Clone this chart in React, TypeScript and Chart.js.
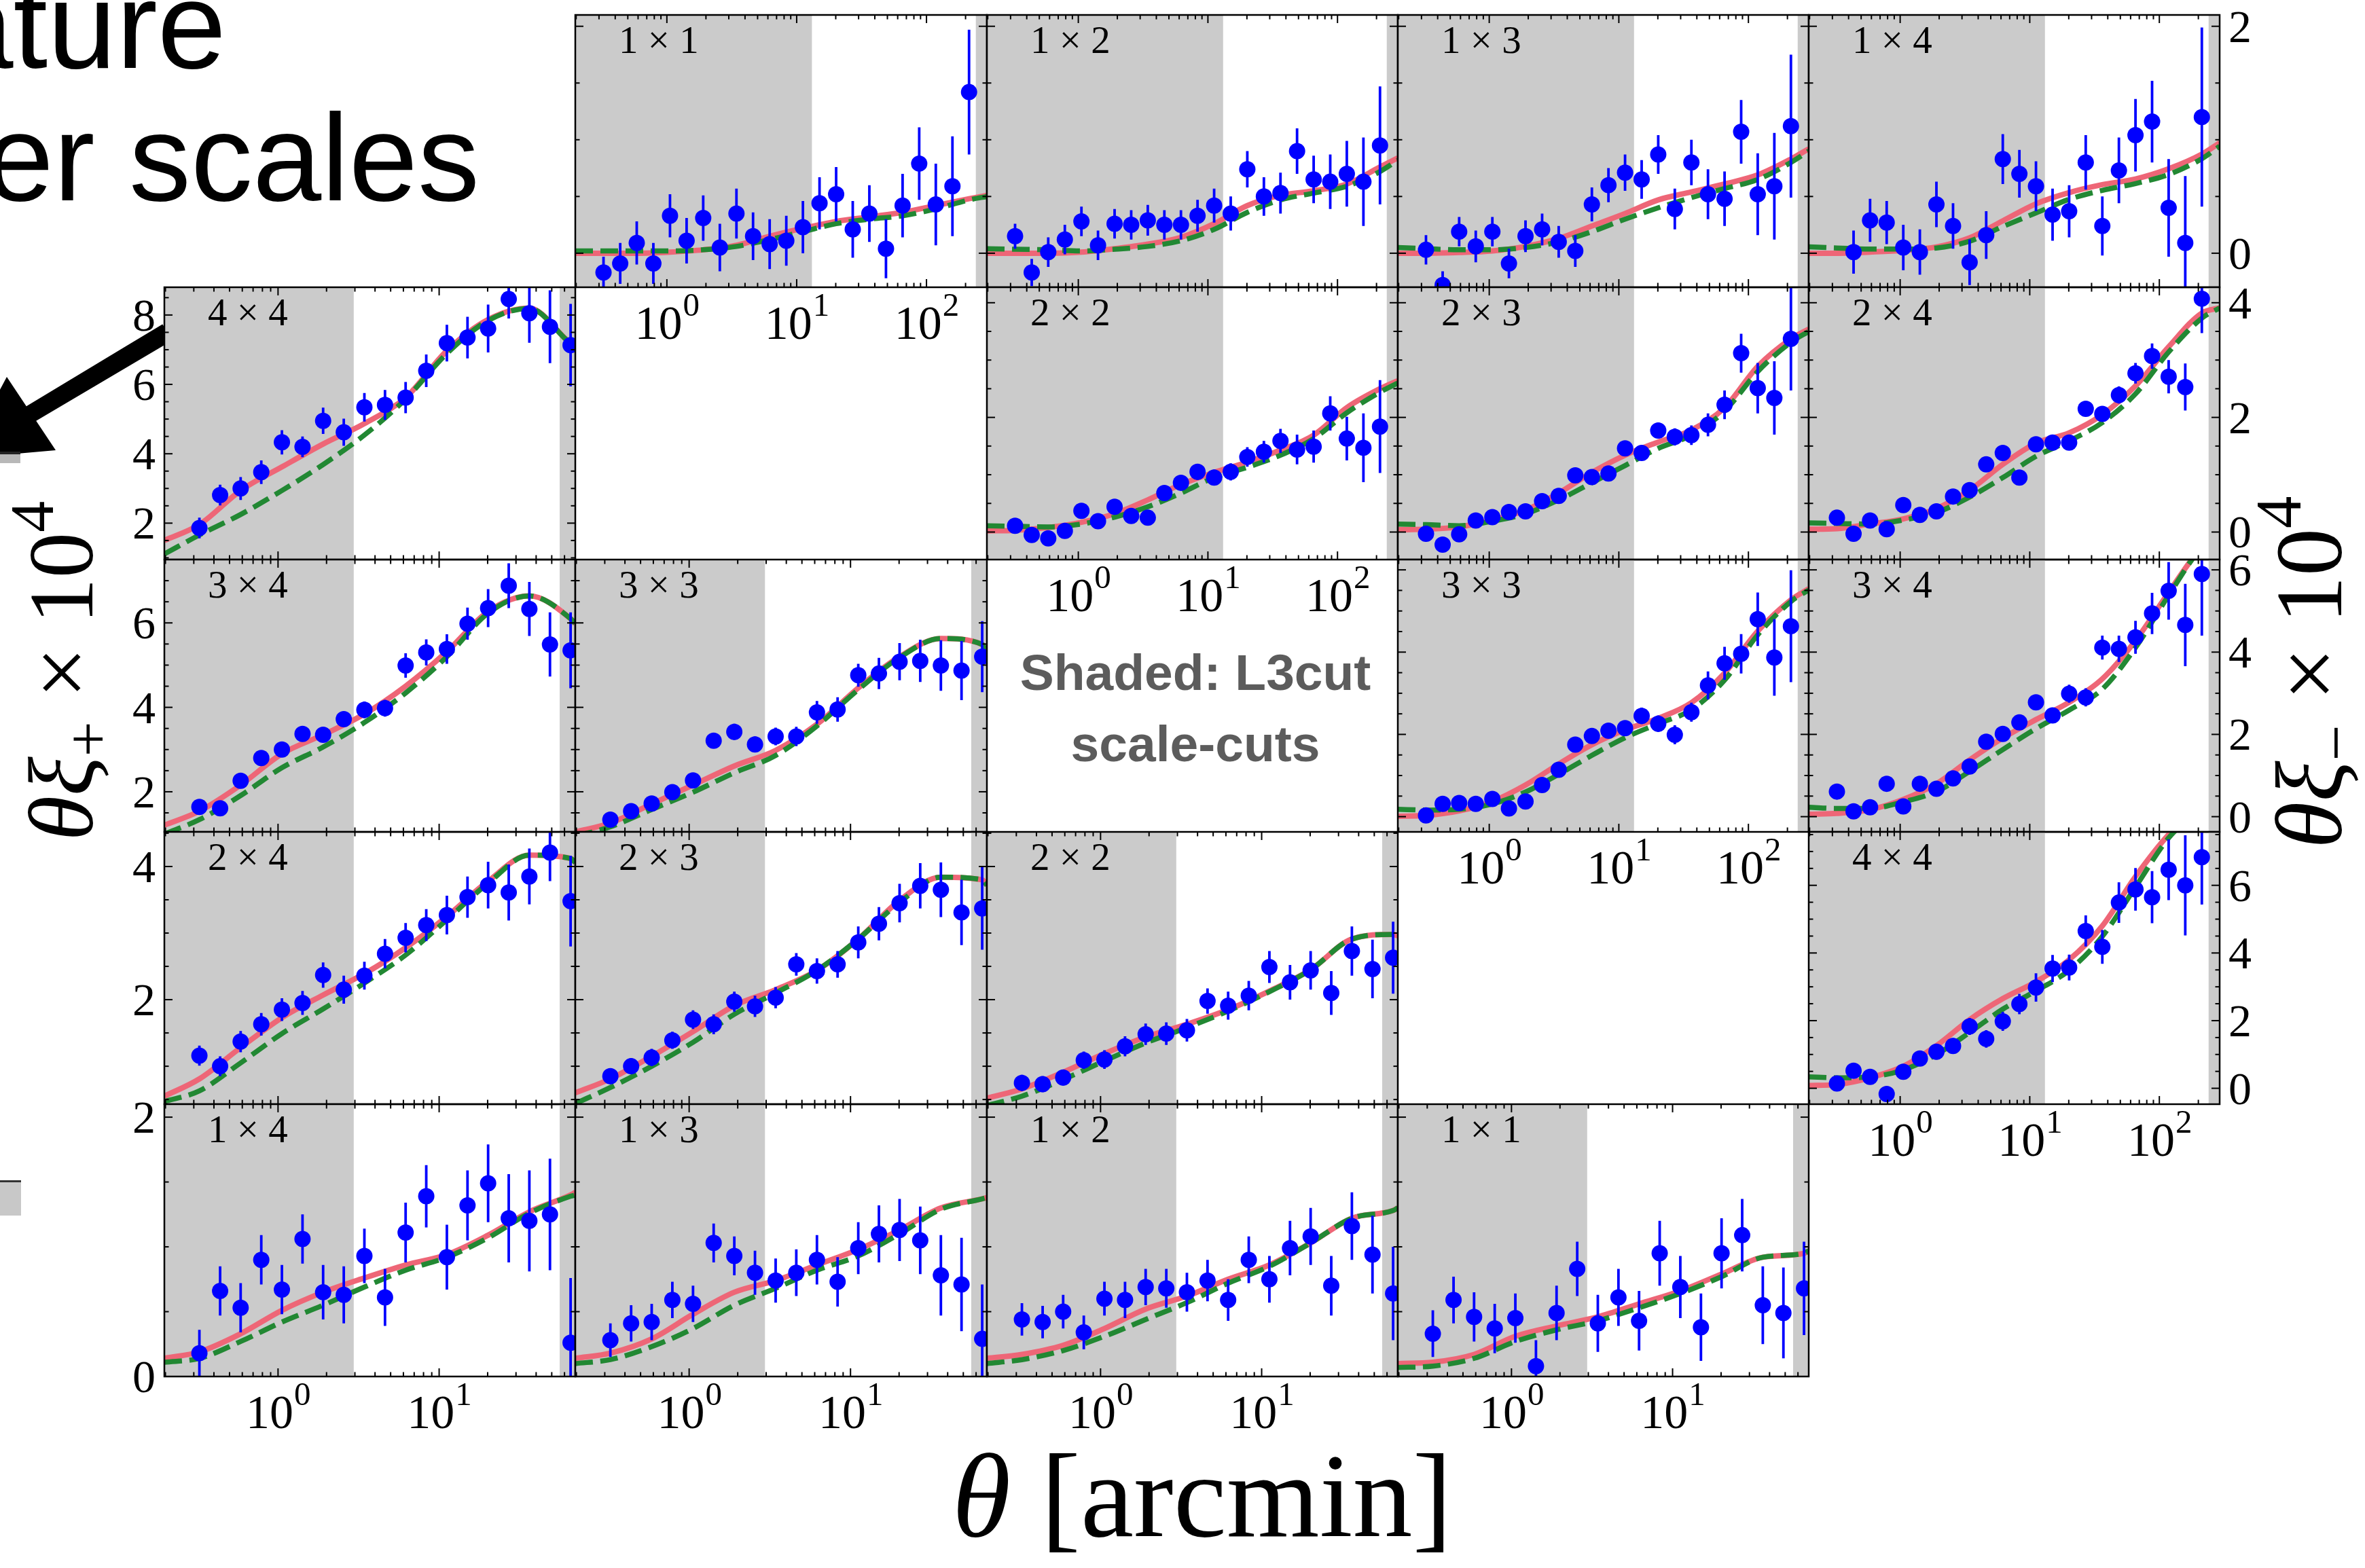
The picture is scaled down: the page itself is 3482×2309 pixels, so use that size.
import React, { useEffect, useRef } from "react";
import { Chart, registerables } from "chart.js";

Chart.register(...registerables);

// ---------------- data ----------------
// angular bins (arcmin); xi+ uses the first 19, xi- all 23
const THETA = [0.325, 0.437, 0.586, 0.787, 1.057, 1.419, 1.905, 2.559, 3.436, 4.613, 6.194, 8.318, 11.17, 15.0, 20.14, 27.04, 36.31, 48.75, 65.46, 87.9, 118.0, 158.5, 212.8];
// theta grid on which the model curves are sampled
const MODEL_THETA_MINUS = [0.197, 0.325, 0.586, 1.057, 1.905, 3.436, 6.194, 11.17, 20.14, 36.31, 65.46, 118.0, 212.8, 292];
const MODEL_THETA_PLUS = [0.197, 0.325, 0.586, 1.057, 1.905, 3.436, 6.194, 11.17, 20.14, 36.31, 65.46, 70];
const X_RANGE_PLUS = [0.197, 70];
const X_RANGE_MINUS = [0.197, 292];
const CUTS_PLUS = [[0.197, 2.95], [56, 70]];
const CUTS_MINUS = [[0.197, 13.1], [240, 292]];
const X_LABELS_PLUS = [1, 10];
const X_LABELS_MINUS = [1, 10, 100];

// y ranges / major tick labels per row
const Y_RANGE_P44 = [0.95, 8.8];
const Y_RANGE_P3 = [1.05, 7.5];
const Y_RANGE_P2 = [0.43, 4.52];
const Y_RANGE_P1 = [0, 2.1];
const Y_RANGE_M1 = [-0.3, 2.1];
const Y_RANGE_M2 = [-0.48, 4.27];
const Y_RANGE_M3 = [-0.37, 6.25];
const Y_RANGE_M4 = [-0.47, 7.58];
const Y_TICKS_P44 = [2, 4, 6, 8];
const Y_TICKS_P3 = [2, 4, 6];
const Y_TICKS_P2 = [2, 4];
const Y_TICKS_P1 = [0, 2];
const Y_TICKS_M1 = [0, 2];
const Y_TICKS_M2 = [0, 2, 4];
const Y_TICKS_M3 = [0, 2, 4, 6];
const Y_TICKS_M4 = [0, 2, 4, 6];

// ---- xi_minus panels ----
const M11_VAL = [-0.17, -0.09, 0.09, -0.09, 0.33, 0.11, 0.31, 0.05, 0.35, 0.15, 0.08, 0.11, 0.23, 0.44, 0.52, 0.21, 0.35, 0.04, 0.42, 0.79, 0.43, 0.59, 1.42];
const M11_ERR = [0.14, 0.18, 0.19, 0.18, 0.19, 0.2, 0.2, 0.21, 0.22, 0.21, 0.22, 0.22, 0.23, 0.23, 0.24, 0.25, 0.25, 0.26, 0.28, 0.32, 0.36, 0.44, 0.55];
const M11_PINK = [0.0, 0.0, 0.0, 0.01, 0.03, 0.07, 0.15, 0.22, 0.28, 0.32, 0.36, 0.42, 0.48, 0.51];
const M11_GREEN = [0.02, 0.02, 0.02, 0.02, 0.03, 0.06, 0.12, 0.19, 0.26, 0.3, 0.33, 0.39, 0.47, 0.5];

const M12_VAL = [0.15, -0.17, 0.01, 0.12, 0.28, 0.07, 0.26, 0.25, 0.29, 0.25, 0.25, 0.33, 0.42, 0.35, 0.74, 0.5, 0.53, 0.9, 0.65, 0.63, 0.7, 0.63, 0.95];
const M12_ERR = [0.11, 0.12, 0.13, 0.13, 0.13, 0.13, 0.13, 0.13, 0.135, 0.13, 0.13, 0.14, 0.15, 0.15, 0.16, 0.17, 0.18, 0.2, 0.21, 0.24, 0.29, 0.39, 0.52];
const M12_PINK = [0, 0, 0, 0.01, 0.04, 0.08, 0.14, 0.26, 0.42, 0.51, 0.55, 0.61, 0.76, 0.84];
const M12_GREEN = [0.04, 0.035, 0.03, 0.02, 0.035, 0.06, 0.11, 0.21, 0.36, 0.47, 0.53, 0.59, 0.72, 0.82];

const M13_VAL = [0.03, -0.28, 0.19, 0.06, 0.19, -0.09, 0.15, 0.21, 0.1, 0.02, 0.43, 0.6, 0.71, 0.65, 0.87, 0.39, 0.8, 0.52, 0.48, 1.07, 0.52, 0.59, 1.12];
const M13_ERR = [0.13, 0.12, 0.13, 0.14, 0.13, 0.13, 0.14, 0.14, 0.14, 0.14, 0.15, 0.15, 0.16, 0.17, 0.17, 0.18, 0.2, 0.22, 0.24, 0.28, 0.36, 0.47, 0.63];
const M13_PINK = [0, 0, 0.006, 0.02, 0.06, 0.13, 0.24, 0.35, 0.47, 0.54, 0.61, 0.69, 0.83, 0.92];
const M13_GREEN = [0.05, 0.04, 0.03, 0.03, 0.05, 0.1, 0.19, 0.3, 0.4, 0.49, 0.57, 0.65, 0.8, 0.9];

const M14_VAL = [null, 0.01, 0.29, 0.27, 0.05, 0.01, 0.43, 0.24, -0.08, 0.16, 0.83, 0.7, 0.59, 0.34, 0.37, 0.8, 0.24, 0.73, 1.04, 1.16, 0.4, 0.09, 1.2];
const M14_ERR = [0.19, 0.19, 0.19, 0.19, 0.2, 0.2, 0.2, 0.2, 0.2, 0.21, 0.22, 0.21, 0.22, 0.23, 0.23, 0.24, 0.26, 0.29, 0.32, 0.36, 0.43, 0.59, 0.79];
const M14_PINK = [0, 0, 0.01, 0.025, 0.055, 0.135, 0.285, 0.435, 0.534, 0.604, 0.654, 0.744, 0.873, 0.973];
const M14_GREEN = [0.056, 0.046, 0.036, 0.036, 0.046, 0.106, 0.235, 0.355, 0.475, 0.554, 0.614, 0.694, 0.833, 0.943];

const M22_VAL = [0.11, -0.05, -0.11, 0.02, 0.37, 0.19, 0.44, 0.28, 0.25, 0.68, 0.86, 1.05, 0.95, 1.05, 1.31, 1.4, 1.59, 1.44, 1.49, 2.07, 1.63, 1.47, 1.84];
const M22_ERR = [0.1, 0.1, 0.1, 0.1, 0.1, 0.11, 0.11, 0.12, 0.12, 0.12, 0.13, 0.14, 0.14, 0.15, 0.17, 0.19, 0.21, 0.26, 0.28, 0.3, 0.38, 0.6, 0.81];
const M22_PINK = [0.02, 0.03, 0.08, 0.17, 0.32, 0.56, 0.83, 1.04, 1.22, 1.43, 1.69, 2.17, 2.5, 2.64];
const M22_GREEN = [0.11, 0.1, 0.09, 0.14, 0.26, 0.44, 0.68, 0.95, 1.13, 1.34, 1.63, 2.08, 2.44, 2.6];

const M23_VAL = [-0.03, -0.22, -0.04, 0.2, 0.26, 0.35, 0.36, 0.54, 0.63, 0.99, 0.96, 1.02, 1.46, 1.38, 1.77, 1.66, 1.69, 1.87, 2.22, 3.12, 2.51, 2.34, 3.37];
const M23_ERR = [0.1, 0.1, 0.1, 0.1, 0.1, 0.1, 0.11, 0.11, 0.11, 0.11, 0.12, 0.12, 0.12, 0.13, 0.14, 0.15, 0.17, 0.2, 0.25, 0.34, 0.44, 0.64, 0.9];
const M23_PINK = [0.04, 0.05, 0.09, 0.21, 0.38, 0.68, 1.04, 1.34, 1.57, 1.78, 2.17, 2.89, 3.37, 3.54];
const M23_GREEN = [0.14, 0.13, 0.11, 0.19, 0.32, 0.56, 0.86, 1.16, 1.46, 1.69, 2.11, 2.8, 3.31, 3.5];

const M24_VAL = [0.25, -0.03, 0.2, 0.05, 0.47, 0.3, 0.36, 0.62, 0.73, 1.18, 1.38, 0.95, 1.53, 1.56, 1.56, 2.15, 2.06, 2.39, 2.77, 3.07, 2.71, 2.53, 4.07];
const M24_ERR = [0.06, 0.06, 0.06, 0.06, 0.06, 0.06, 0.06, 0.07, 0.07, 0.08, 0.08, 0.09, 0.1, 0.1, 0.11, 0.12, 0.13, 0.15, 0.18, 0.22, 0.29, 0.41, 0.6];
const M24_PINK = [0.05, 0.06, 0.14, 0.23, 0.41, 0.73, 1.18, 1.55, 1.73, 2.05, 2.55, 3.23, 3.82, 3.91];
const M24_GREEN = [0.16, 0.15, 0.14, 0.21, 0.34, 0.61, 0.95, 1.32, 1.59, 1.91, 2.41, 3.14, 3.73, 3.91];

const M33_VAL = [0.03, 0.31, 0.33, 0.31, 0.43, 0.2, 0.37, 0.77, 1.14, 1.75, 1.96, 2.09, 2.15, 2.45, 2.26, 1.99, 2.54, 3.19, 3.73, 3.96, 4.8, 3.87, 4.63];
const M33_ERR = [0.06, 0.06, 0.06, 0.06, 0.07, 0.07, 0.07, 0.08, 0.08, 0.09, 0.1, 0.12, 0.14, 0.2, 0.2, 0.23, 0.23, 0.34, 0.4, 0.48, 0.65, 0.93, 1.36];
const M33_PINK = [0.01, 0.03, 0.14, 0.37, 0.77, 1.28, 1.75, 2.11, 2.39, 2.77, 3.49, 4.51, 5.27, 5.54];
const M33_GREEN = [0.18, 0.16, 0.18, 0.31, 0.6, 1.03, 1.49, 1.92, 2.26, 2.6, 3.32, 4.42, 5.23, 5.51];

const M34_VAL = [0.61, 0.13, 0.23, 0.8, 0.25, 0.8, 0.68, 0.93, 1.22, 1.82, 2.01, 2.29, 2.78, 2.46, 2.99, 2.9, 4.11, 4.08, 4.36, 4.94, 5.49, 4.66, 5.9];
const M34_ERR = [0.05, 0.05, 0.05, 0.05, 0.05, 0.05, 0.06, 0.06, 0.07, 0.08, 0.1, 0.11, 0.17, 0.18, 0.22, 0.22, 0.29, 0.32, 0.4, 0.5, 0.7, 1.0, 1.5];
const M34_PINK = [0.06, 0.08, 0.17, 0.42, 0.8, 1.38, 1.91, 2.36, 2.78, 3.35, 4.28, 5.45, 6.55, 6.85];
const M34_GREEN = [0.23, 0.2, 0.2, 0.36, 0.61, 1.1, 1.63, 2.14, 2.59, 3.1, 4.11, 5.38, 6.55, 6.85];

const M44_VAL = [0.14, 0.52, 0.34, -0.17, 0.49, 0.88, 1.08, 1.25, 1.83, 1.46, 1.98, 2.49, 2.98, 3.54, 3.57, 4.65, 4.18, 5.49, 5.88, 5.65, 6.46, 6.0, 6.83];
const M44_ERR = [0.2, 0.2, 0.2, 0.2, 0.22, 0.22, 0.23, 0.23, 0.25, 0.26, 0.28, 0.3, 0.42, 0.4, 0.38, 0.46, 0.5, 0.6, 0.63, 0.77, 0.9, 1.48, 1.4];
const M44_PINK = [0.08, 0.11, 0.31, 0.65, 1.26, 2.03, 2.65, 3.15, 3.8, 4.8, 6.26, 7.5, 8.4, 8.8];
const M44_GREEN = [0.34, 0.31, 0.34, 0.54, 1.0, 1.65, 2.34, 2.88, 3.49, 4.49, 5.95, 7.4, 8.3, 8.7];

// ---- xi_plus panels ----
const P44_VAL = [1.86, 2.81, 3.0, 3.47, 4.33, 4.2, 4.95, 4.62, 5.34, 5.41, 5.62, 6.39, 7.19, 7.35, 7.61, 8.46, 8.05, 7.66, 7.13];
const P44_ERR = [0.3, 0.3, 0.33, 0.34, 0.35, 0.3, 0.38, 0.39, 0.41, 0.43, 0.45, 0.47, 0.53, 0.6, 0.69, 0.56, 0.85, 1.05, 1.19];
const P44_PINK = [1.5, 1.96, 2.94, 3.62, 4.28, 4.87, 5.62, 6.97, 7.87, 8.2, 7.19, 7.12];
const P44_GREEN = [1.11, 1.66, 2.25, 2.94, 3.69, 4.54, 5.58, 6.89, 7.84, 8.19, 7.19, 7.12];

const P34_VAL = [1.64, 1.61, 2.26, 2.8, 3.0, 3.37, 3.35, 3.72, 3.94, 3.98, 4.99, 5.3, 5.38, 5.98, 6.35, 6.88, 6.33, 5.49, 5.35];
const P34_ERR = [0.13, 0.13, 0.14, 0.15, 0.15, 0.16, 0.17, 0.17, 0.2, 0.2, 0.29, 0.31, 0.35, 0.38, 0.45, 0.53, 0.64, 0.76, 0.9];
const P34_PINK = [1.21, 1.54, 2.16, 2.9, 3.35, 3.84, 4.5, 5.32, 6.27, 6.64, 6.1, 5.98];
const P34_GREEN = [1.0, 1.34, 1.91, 2.57, 3.06, 3.64, 4.34, 5.2, 6.23, 6.64, 6.1, 5.98];

const P33_VAL = [1.34, 1.54, 1.72, 1.99, 2.27, 3.21, 3.42, 3.12, 3.31, 3.31, 3.88, 3.95, 4.76, 4.8, 5.08, 5.1, 4.99, 4.87, 5.2];
const P33_ERR = [0.12, 0.12, 0.13, 0.13, 0.14, 0.17, 0.19, 0.19, 0.21, 0.23, 0.27, 0.29, 0.27, 0.37, 0.44, 0.5, 0.6, 0.7, 0.84];
const P33_PINK = [1.05, 1.26, 1.71, 2.16, 2.61, 2.98, 3.6, 4.46, 5.2, 5.63, 5.49, 5.28];
const P33_GREEN = [0.95, 1.17, 1.58, 1.99, 2.45, 2.86, 3.56, 4.42, 5.18, 5.63, 5.49, 5.28];

const P24_VAL = [1.16, 1.0, 1.37, 1.63, 1.85, 1.95, 2.37, 2.15, 2.36, 2.69, 2.93, 3.12, 3.27, 3.54, 3.72, 3.61, 3.85, 4.21, 3.48];
const P24_ERR = [0.15, 0.15, 0.16, 0.17, 0.17, 0.18, 0.19, 0.21, 0.21, 0.22, 0.22, 0.24, 0.29, 0.31, 0.35, 0.42, 0.42, 0.43, 0.68];
const P24_PINK = [0.55, 0.81, 1.28, 1.73, 2.07, 2.39, 2.78, 3.25, 3.78, 4.17, 4.12, 4.06];
const P24_GREEN = [0.47, 0.63, 1.05, 1.49, 1.86, 2.25, 2.67, 3.2, 3.75, 4.17, 4.12, 4.06];

const P23_VAL = [0.85, 1.0, 1.13, 1.39, 1.7, 1.63, 1.97, 1.9, 2.03, 2.53, 2.43, 2.53, 2.86, 3.14, 3.45, 3.71, 3.65, 3.31, 3.37];
const P23_ERR = [0.12, 0.12, 0.13, 0.13, 0.14, 0.15, 0.15, 0.16, 0.16, 0.17, 0.19, 0.2, 0.24, 0.25, 0.29, 0.34, 0.41, 0.49, 0.62];
const P23_PINK = [0.6, 0.81, 1.15, 1.52, 1.91, 2.15, 2.44, 2.91, 3.49, 3.84, 3.8, 3.72];
const P23_GREEN = [0.44, 0.68, 1.0, 1.36, 1.78, 2.1, 2.44, 2.91, 3.46, 3.84, 3.8, 3.72];

const P22_VAL = [0.75, 0.73, 0.83, 1.09, 1.1, 1.3, 1.48, 1.49, 1.54, 1.98, 1.91, 2.06, 2.49, 2.26, 2.44, 2.1, 2.73, 2.46, 2.63];
const P22_ERR = [0.12, 0.12, 0.12, 0.13, 0.14, 0.15, 0.16, 0.17, 0.17, 0.19, 0.21, 0.22, 0.24, 0.26, 0.29, 0.33, 0.37, 0.44, 0.54];
const P22_PINK = [0.52, 0.66, 0.91, 1.19, 1.44, 1.63, 1.85, 2.13, 2.45, 2.91, 2.98, 2.96];
const P22_GREEN = [0.41, 0.55, 0.8, 1.08, 1.35, 1.58, 1.83, 2.12, 2.45, 2.91, 2.98, 2.96];

const P14_VAL = [0.18, 0.66, 0.53, 0.9, 0.67, 1.06, 0.65, 0.63, 0.93, 0.61, 1.11, 1.39, 0.92, 1.32, 1.49, 1.22, 1.2, 1.25, 0.26];
const P14_ERR = [0.18, 0.19, 0.19, 0.19, 0.19, 0.19, 0.21, 0.22, 0.21, 0.22, 0.23, 0.24, 0.25, 0.27, 0.3, 0.34, 0.39, 0.43, 0.5];
const P14_PINK = [0.14, 0.19, 0.33, 0.51, 0.65, 0.76, 0.86, 0.94, 1.09, 1.27, 1.4, 1.42];
const P14_GREEN = [0.11, 0.14, 0.27, 0.42, 0.55, 0.69, 0.82, 0.92, 1.07, 1.26, 1.39, 1.4];

const P13_VAL = [0.28, 0.41, 0.42, 0.59, 0.56, 1.03, 0.93, 0.8, 0.74, 0.8, 0.9, 0.73, 0.99, 1.1, 1.13, 1.05, 0.78, 0.71, 0.29];
const P13_ERR = [0.13, 0.14, 0.14, 0.14, 0.14, 0.15, 0.15, 0.17, 0.17, 0.18, 0.19, 0.19, 0.2, 0.22, 0.24, 0.26, 0.31, 0.36, 0.42];
const P13_PINK = [0.14, 0.18, 0.29, 0.48, 0.65, 0.74, 0.86, 0.98, 1.13, 1.3, 1.37, 1.38];
const P13_GREEN = [0.1, 0.13, 0.23, 0.37, 0.55, 0.68, 0.82, 0.93, 1.1, 1.29, 1.37, 1.38];

const P12_VAL = [0.44, 0.42, 0.5, 0.34, 0.6, 0.59, 0.69, 0.68, 0.65, 0.74, 0.59, 0.9, 0.75, 0.99, 1.08, 0.7, 1.16, 0.94, 0.64];
const P12_ERR = [0.125, 0.125, 0.13, 0.13, 0.13, 0.14, 0.14, 0.15, 0.15, 0.16, 0.16, 0.18, 0.18, 0.21, 0.22, 0.23, 0.26, 0.3, 0.36];
const P12_PINK = [0.14, 0.17, 0.24, 0.37, 0.52, 0.62, 0.75, 0.86, 1.03, 1.22, 1.28, 1.3];
const P12_GREEN = [0.1, 0.13, 0.2, 0.31, 0.44, 0.57, 0.72, 0.85, 1.03, 1.22, 1.28, 1.3];

const P11_VAL = [0.33, 0.59, 0.46, 0.37, 0.45, 0.08, 0.49, 0.83, 0.41, 0.61, 0.43, 0.95, 0.69, 0.38, 0.95, 1.09, 0.55, 0.49, 0.68];
const P11_ERR = [0.18, 0.18, 0.19, 0.19, 0.19, 0.2, 0.21, 0.21, 0.22, 0.22, 0.23, 0.25, 0.24, 0.26, 0.27, 0.28, 0.3, 0.35, 0.36];
const P11_PINK = [0.1, 0.11, 0.17, 0.31, 0.39, 0.46, 0.56, 0.66, 0.79, 0.92, 0.95, 0.97];
const P11_GREEN = [0.07, 0.08, 0.14, 0.27, 0.36, 0.43, 0.53, 0.64, 0.77, 0.92, 0.95, 0.97];

// ---------------- layout / style ----------------
const MARGIN = 130;
const COL_X = [242, 847, 1453, 2058, 2663, 3268];
const ROW_Y = [22, 423, 824, 1225, 1626, 2027];
const BLUE = "#0000ff";
const PINK = "#EE6677";
const GREEN = "#228833";
const SHADE = "#cbcbcb";
const SERIF = '"Liberation Serif", "DejaVu Serif", serif';

type Panel = {
  label: string;
  kind: "p" | "m";
  row: number;
  col: number;
  val: (number | null)[];
  err: number[];
  pink: number[];
  green: number[];
  yRange: number[];
  yTicks: number[];
  ySide?: "left" | "right";
  xLabels?: boolean;
};

const PANELS: Panel[] = [
  { label: "1 \u00d7 1", kind: "m", row: 0, col: 1, val: M11_VAL, err: M11_ERR, pink: M11_PINK, green: M11_GREEN, yRange: Y_RANGE_M1, yTicks: Y_TICKS_M1, xLabels: true },
  { label: "1 \u00d7 2", kind: "m", row: 0, col: 2, val: M12_VAL, err: M12_ERR, pink: M12_PINK, green: M12_GREEN, yRange: Y_RANGE_M1, yTicks: Y_TICKS_M1 },
  { label: "1 \u00d7 3", kind: "m", row: 0, col: 3, val: M13_VAL, err: M13_ERR, pink: M13_PINK, green: M13_GREEN, yRange: Y_RANGE_M1, yTicks: Y_TICKS_M1 },
  { label: "1 \u00d7 4", kind: "m", row: 0, col: 4, val: M14_VAL, err: M14_ERR, pink: M14_PINK, green: M14_GREEN, yRange: Y_RANGE_M1, yTicks: Y_TICKS_M1, ySide: "right" },
  { label: "4 \u00d7 4", kind: "p", row: 1, col: 0, val: P44_VAL, err: P44_ERR, pink: P44_PINK, green: P44_GREEN, yRange: Y_RANGE_P44, yTicks: Y_TICKS_P44, ySide: "left" },
  { label: "2 \u00d7 2", kind: "m", row: 1, col: 2, val: M22_VAL, err: M22_ERR, pink: M22_PINK, green: M22_GREEN, yRange: Y_RANGE_M2, yTicks: Y_TICKS_M2, xLabels: true },
  { label: "2 \u00d7 3", kind: "m", row: 1, col: 3, val: M23_VAL, err: M23_ERR, pink: M23_PINK, green: M23_GREEN, yRange: Y_RANGE_M2, yTicks: Y_TICKS_M2 },
  { label: "2 \u00d7 4", kind: "m", row: 1, col: 4, val: M24_VAL, err: M24_ERR, pink: M24_PINK, green: M24_GREEN, yRange: Y_RANGE_M2, yTicks: Y_TICKS_M2, ySide: "right" },
  { label: "3 \u00d7 4", kind: "p", row: 2, col: 0, val: P34_VAL, err: P34_ERR, pink: P34_PINK, green: P34_GREEN, yRange: Y_RANGE_P3, yTicks: Y_TICKS_P3, ySide: "left" },
  { label: "3 \u00d7 3", kind: "p", row: 2, col: 1, val: P33_VAL, err: P33_ERR, pink: P33_PINK, green: P33_GREEN, yRange: Y_RANGE_P3, yTicks: Y_TICKS_P3 },
  { label: "3 \u00d7 3", kind: "m", row: 2, col: 3, val: M33_VAL, err: M33_ERR, pink: M33_PINK, green: M33_GREEN, yRange: Y_RANGE_M3, yTicks: Y_TICKS_M3, xLabels: true },
  { label: "3 \u00d7 4", kind: "m", row: 2, col: 4, val: M34_VAL, err: M34_ERR, pink: M34_PINK, green: M34_GREEN, yRange: Y_RANGE_M3, yTicks: Y_TICKS_M3, ySide: "right" },
  { label: "2 \u00d7 4", kind: "p", row: 3, col: 0, val: P24_VAL, err: P24_ERR, pink: P24_PINK, green: P24_GREEN, yRange: Y_RANGE_P2, yTicks: Y_TICKS_P2, ySide: "left" },
  { label: "2 \u00d7 3", kind: "p", row: 3, col: 1, val: P23_VAL, err: P23_ERR, pink: P23_PINK, green: P23_GREEN, yRange: Y_RANGE_P2, yTicks: Y_TICKS_P2 },
  { label: "2 \u00d7 2", kind: "p", row: 3, col: 2, val: P22_VAL, err: P22_ERR, pink: P22_PINK, green: P22_GREEN, yRange: Y_RANGE_P2, yTicks: Y_TICKS_P2 },
  { label: "4 \u00d7 4", kind: "m", row: 3, col: 4, val: M44_VAL, err: M44_ERR, pink: M44_PINK, green: M44_GREEN, yRange: Y_RANGE_M4, yTicks: Y_TICKS_M4, ySide: "right", xLabels: true },
  { label: "1 \u00d7 4", kind: "p", row: 4, col: 0, val: P14_VAL, err: P14_ERR, pink: P14_PINK, green: P14_GREEN, yRange: Y_RANGE_P1, yTicks: Y_TICKS_P1, ySide: "left", xLabels: true },
  { label: "1 \u00d7 3", kind: "p", row: 4, col: 1, val: P13_VAL, err: P13_ERR, pink: P13_PINK, green: P13_GREEN, yRange: Y_RANGE_P1, yTicks: Y_TICKS_P1, xLabels: true },
  { label: "1 \u00d7 2", kind: "p", row: 4, col: 2, val: P12_VAL, err: P12_ERR, pink: P12_PINK, green: P12_GREEN, yRange: Y_RANGE_P1, yTicks: Y_TICKS_P1, xLabels: true },
  { label: "1 \u00d7 1", kind: "p", row: 4, col: 3, val: P11_VAL, err: P11_ERR, pink: P11_PINK, green: P11_GREEN, yRange: Y_RANGE_P1, yTicks: Y_TICKS_P1, xLabels: true },
];

function PanelChart({ p }: { p: Panel }) {
  const ref = useRef<HTMLCanvasElement>(null);
  const w = COL_X[p.col + 1] - COL_X[p.col];
  const h = ROW_Y[p.row + 1] - ROW_Y[p.row];

  useEffect(() => {
    const isPlus = p.kind === "p";
    const n = isPlus ? 19 : 23;
    const mTheta = isPlus ? MODEL_THETA_PLUS : MODEL_THETA_MINUS;
    const xr = isPlus ? X_RANGE_PLUS : X_RANGE_MINUS;
    const cuts = isPlus ? CUTS_PLUS : CUTS_MINUS;
    const xLab = isPlus ? X_LABELS_PLUS : X_LABELS_MINUS;

    const pts: any[] = [];
    const bars: any[] = [];
    for (let i = 0; i < n; i++) {
      const v = p.val[i];
      if (v === null || v === undefined) continue;
      pts.push({ x: THETA[i], y: v });
      bars.push({ x: THETA[i], y: v - p.err[i] }, { x: THETA[i], y: v + p.err[i] }, { x: THETA[i], y: null });
    }

    const deco = {
      id: "deco",
      beforeDatasetsDraw(chart: any) {
        const { ctx, chartArea: a, scales } = chart;
        const x = scales.x;
        ctx.save();
        ctx.fillStyle = SHADE;
        for (const [lo, hi] of cuts) {
          const x0 = Math.max(a.left, x.getPixelForValue(lo));
          const x1 = Math.min(a.right, x.getPixelForValue(hi));
          if (x1 > x0) ctx.fillRect(x0, a.top, x1 - x0, a.bottom - a.top);
        }
        ctx.restore();
      },
      afterDatasetsDraw(chart: any) {
        const { ctx, chartArea: a, scales } = chart;
        const x = scales.x;
        const y = scales.y;
        ctx.save();
        ctx.strokeStyle = "#000";
        ctx.lineWidth = 2;
        const line = (x0: number, y0: number, x1: number, y1: number) => {
          ctx.beginPath();
          ctx.moveTo(x0, y0);
          ctx.lineTo(x1, y1);
          ctx.stroke();
        };
        for (let k = -1; k <= 3; k++) {
          for (let m = 1; m <= 9; m++) {
            const v = m * Math.pow(10, k);
            if (v <= xr[0] || v >= xr[1]) continue;
            const px = x.getPixelForValue(v);
            const L = m === 1 ? 12 : 6.5;
            line(px, a.bottom, px, a.bottom - L);
            line(px, a.top, px, a.top + L);
          }
        }
        const [y0, y1] = p.yRange;
        for (let v = Math.ceil(y0 * 2) / 2; v <= y1 + 1e-9; v += 0.5) {
          const py = y.getPixelForValue(v);
          const major = Math.abs(v / 2 - Math.round(v / 2)) < 1e-6;
          const L = major ? 12 : 6.5;
          line(a.left, py, a.left + L, py);
          line(a.right, py, a.right - L, py);
        }
        ctx.lineWidth = 2.5;
        ctx.strokeRect(a.left, a.top, a.right - a.left, a.bottom - a.top);

        ctx.fillStyle = "#000";
        ctx.textBaseline = "alphabetic";
        ctx.textAlign = "left";
        ctx.font = `57px ${SERIF}`;
        ctx.fillText(p.label, a.left + 64, a.top + 56);

        if (p.ySide) {
          ctx.font = `68px ${SERIF}`;
          ctx.textAlign = p.ySide === "left" ? "right" : "left";
          for (const v of p.yTicks) {
            const py = y.getPixelForValue(v);
            ctx.fillText(String(v), p.ySide === "left" ? a.left - 13 : a.right + 13, py + 23);
          }
        }
        if (p.xLabels) {
          ctx.textAlign = "left";
          for (const v of xLab) {
            const px = x.getPixelForValue(v);
            const e = String(Math.round(Math.log10(v)));
            ctx.font = `70px ${SERIF}`;
            const w1 = ctx.measureText("10").width;
            ctx.font = `49px ${SERIF}`;
            const w2 = ctx.measureText(e).width;
            const sx = px - (w1 + w2) / 2;
            ctx.font = `70px ${SERIF}`;
            ctx.fillText("10", sx, a.bottom + 76);
            ctx.font = `49px ${SERIF}`;
            ctx.fillText(e, sx + w1 + 1, a.bottom + 42);
          }
        }
        ctx.restore();
      },
    };

    const chart = new Chart(ref.current as HTMLCanvasElement, {
      type: "line",
      data: {
        datasets: [
          { data: pts, showLine: false, pointRadius: 12, pointHoverRadius: 12, pointBackgroundColor: BLUE, pointBorderColor: BLUE, pointBorderWidth: 0, order: 0 } as any,
          { data: bars, borderColor: BLUE, borderWidth: 3.8, pointRadius: 0, spanGaps: false, order: 1 } as any,
          { data: mTheta.map((t, i) => ({ x: t, y: p.green[i] })), borderColor: GREEN, borderWidth: 7.5, borderDash: [26, 11], pointRadius: 0, cubicInterpolationMode: "monotone", order: 2 } as any,
          { data: mTheta.map((t, i) => ({ x: t, y: p.pink[i] })), borderColor: PINK, borderWidth: 8, pointRadius: 0, cubicInterpolationMode: "monotone", order: 3 } as any,
        ],
      },
      options: {
        animation: false,
        responsive: false,
        maintainAspectRatio: false,
        devicePixelRatio: 1,
        events: [],
        layout: { padding: MARGIN },
        plugins: { legend: { display: false }, tooltip: { enabled: false } },
        scales: {
          x: { type: "logarithmic", min: xr[0], max: xr[1], display: false },
          y: { type: "linear", min: p.yRange[0], max: p.yRange[1], display: false },
        },
      } as any,
      plugins: [deco as any],
    });
    return () => chart.destroy();
  }, []);

  return (
    <canvas
      ref={ref}
      width={w + 2 * MARGIN}
      height={h + 2 * MARGIN}
      style={{ position: "absolute", left: COL_X[p.col] - MARGIN, top: ROW_Y[p.row] - MARGIN, width: w + 2 * MARGIN, height: h + 2 * MARGIN }}
    />
  );
}

export default function App() {
  return (
    <div style={{ position: "absolute", left: 0, top: 0, width: 3482, height: 2309, overflow: "hidden", background: "#fff" }}>
      <svg width={3482} height={2309} style={{ position: "absolute", left: 0, top: 0 }}>
        <text x={333} y={100} textAnchor="end" fontFamily='"Liberation Sans", Arial, sans-serif' fontSize={182} fill="#000">ature</text>
        <text x={706} y={295} textAnchor="end" fontFamily='"Liberation Sans", Arial, sans-serif' fontSize={182} fill="#000">er scales</text>
        <polygon points="239.2,477.4 254.8,500.6 53.2,619.8 82,663 -54,675 10,555 38.8,598.2" fill="#000" />
        <rect x={0} y={668} width={30} height={14} fill="#b8b8b8" />
        <rect x={0} y={665} width={30} height={4} fill="#222" />
        <rect x={0} y={1740} width={31} height={50} fill="#c8c8c8" />
        <rect x={0} y={1738} width={31} height={3} fill="#333" />
        <text transform="translate(136,988) rotate(-90)" textAnchor="middle" fontFamily={SERIF} fontSize={135} fill="#000">
          <tspan fontStyle="italic">{"\u03b8\u03be"}</tspan>
          <tspan fontSize={92} dy={24}>+</tspan>
          <tspan dy={-24}>{" \u00d7 10"}</tspan>
          <tspan fontSize={92} dy={-58}>4</tspan>
        </text>
        <text transform="translate(3447,990) rotate(-90)" textAnchor="middle" fontFamily={SERIF} fontSize={140} fill="#000">
          <tspan fontStyle="italic">{"\u03b8\u03be"}</tspan>
          <tspan fontSize={95} dy={24}>{"\u2212"}</tspan>
          <tspan dy={-24}>{" \u00d7 10"}</tspan>
          <tspan fontSize={95} dy={-60}>4</tspan>
        </text>
        <text x={1770} y={2262} textAnchor="middle" fontFamily={SERIF} fontSize={176} fill="#000">
          <tspan fontStyle="italic">{"\u03b8"}</tspan>
          <tspan>{" [arcmin]"}</tspan>
        </text>
        <text x={1760} y={1016} textAnchor="middle" fontFamily='"Liberation Sans", Arial, sans-serif' fontWeight="bold" fontSize={75} fill="#5c5c5c">Shaded: L3cut</text>
        <text x={1760} y={1121} textAnchor="middle" fontFamily='"Liberation Sans", Arial, sans-serif' fontWeight="bold" fontSize={75} fill="#5c5c5c">scale-cuts</text>
      </svg>
      {PANELS.map((p, i) => (
        <PanelChart key={i} p={p} />
      ))}
    </div>
  );
}
